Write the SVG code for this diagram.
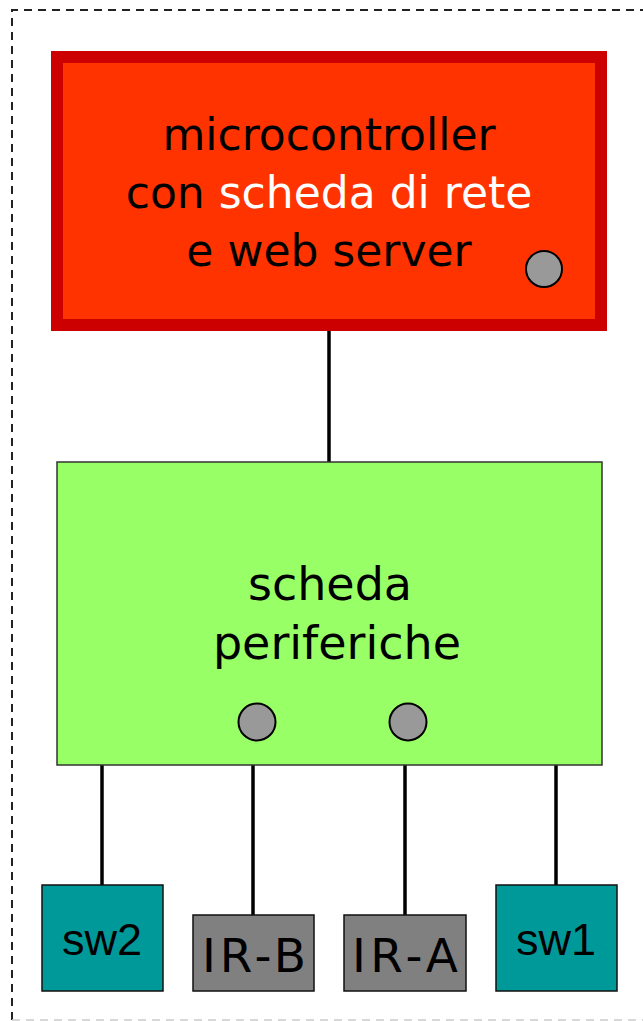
<svg xmlns="http://www.w3.org/2000/svg" width="643" height="1021" viewBox="0 0 643 1021">
<style>
.lbl{font-family:"DejaVu Sans","Noto Sans",sans-serif;font-size:44px;fill:#000;text-anchor:middle}
.lbl2{font-family:"DejaVu Sans","Noto Sans",sans-serif;font-size:46px;fill:#000;text-anchor:middle}
.sw{font-family:"Liberation Sans",Arial,sans-serif;font-size:45px;fill:#000;text-anchor:middle}
.ir{font-family:"DejaVu Sans","Noto Sans",sans-serif;font-size:47px;fill:#000;text-anchor:middle}
.dot{fill:#999999;stroke:#000;stroke-width:2}
.wire{stroke:#000;stroke-width:3.5;fill:none}
</style>
<rect width="643" height="1021" fill="#fff"/>
<g id="frame">
<path d="M12,1020 V10 H643" fill="none" stroke="#222" stroke-width="2" stroke-dasharray="8,6"/>
<path d="M12,1020 H643" fill="none" stroke="#cccccc" stroke-width="1.5" stroke-dasharray="8,6"/>
</g>
<g id="connectors">
<line class="wire" x1="329" y1="331" x2="329" y2="462"/>
<line class="wire" x1="102" y1="765" x2="102" y2="885"/>
<line class="wire" x1="253" y1="765" x2="253" y2="915"/>
<line class="wire" x1="405" y1="765" x2="405" y2="915"/>
<line class="wire" x1="556" y1="765" x2="556" y2="885"/>
</g>
<g id="microcontroller">
<rect x="57" y="57" width="544" height="268" fill="#FF3300" stroke="#CC0000" stroke-width="12"/>
<text class="lbl" x="329" y="150">microcontroller</text>
<text class="lbl" x="329" y="208">con <tspan fill="#fff">scheda di rete</tspan></text>
<text class="lbl" x="329" y="266">e web server</text>
<circle class="dot" cx="544" cy="269" r="18"/>
</g>
<g id="periferiche">
<rect x="57" y="462" width="545" height="303" fill="#99FF66" stroke="#333" stroke-width="1.5"/>
<text class="lbl2" x="330" y="600">scheda</text>
<text class="lbl2" x="337" y="659">periferiche</text>
<circle class="dot" cx="257" cy="722" r="18.5"/>
<circle class="dot" cx="408" cy="722" r="18.5"/>
</g>
<g id="sw2">
<rect x="42" y="885" width="121" height="106" fill="#009999" stroke="#111" stroke-width="1.5"/>
<text class="sw" x="102" y="955">sw2</text>
</g>
<g id="IR-B">
<rect x="193" y="915" width="121" height="76" fill="#808080" stroke="#111" stroke-width="1.5"/>
<text class="ir" x="254" y="972" textLength="104" lengthAdjust="spacing">IR-B</text>
</g>
<g id="IR-A">
<rect x="344" y="915" width="122" height="76" fill="#808080" stroke="#111" stroke-width="1.5"/>
<text class="ir" x="405" y="972" textLength="106" lengthAdjust="spacing">IR-A</text>
</g>
<g id="sw1">
<rect x="496" y="885" width="121" height="106" fill="#009999" stroke="#111" stroke-width="1.5"/>
<text class="sw" x="556" y="955">sw1</text>
</g>
</svg>
